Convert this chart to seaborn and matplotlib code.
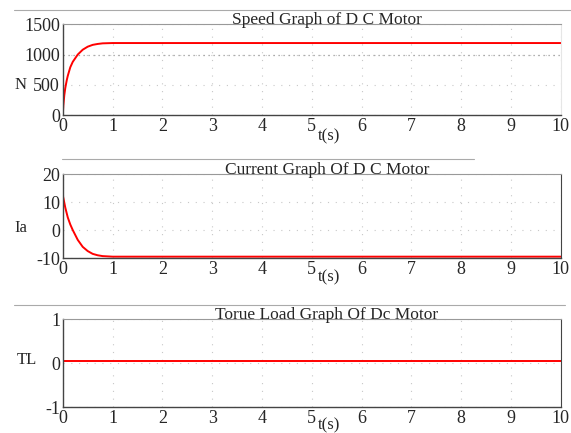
import numpy as np
import pandas as pd
import matplotlib
matplotlib.use("Agg")
import matplotlib.pyplot as plt
from matplotlib.lines import Line2D
import seaborn as sns

# values
t_speed = [0, 0.01, 0.03, 0.05, 0.08, 0.1, 0.15, 0.2, 0.3, 0.4, 0.5, 0.6, 0.7, 0.8, 1.0, 10]
speed = [0, 150, 330, 450, 580, 650, 790, 880, 1000, 1080, 1130, 1160, 1175, 1185, 1190, 1190]

t_current = [0, 0.0, 0.005, 0.05, 0.1, 0.15, 0.2, 0.3, 0.4, 0.5, 0.6, 0.7, 0.8, 1.0, 10]
current = [-10, 12, 12, 8, 4.5, 2, 0, -3.5, -6, -7.5, -8.5, -9.0, -9.3, -9.5, -9.5]

t_torque = [0, 10]
torque = [0.05, 0.05]

titles = ["Speed Graph of D C Motor", "Current Graph Of D C Motor", "Torue Load Graph Of Dc Motor"]
ylabels = ["N", "Ia", "TL"]
xticks = list(range(0, 11))
yticks = [[0, 500, 1000, 1500], [-10, 0, 10, 20], [-1, 0, 1]]
ylims = [(0, 1500), (-10, 20), (-1, 1)]
label_pos = [(-0.085, 0.33), (-0.085, 0.36), (-0.072, 0.53)]
xlabel_y = [-0.14, -0.14, -0.12]

sns.set_style("white")
plt.rcParams["font.family"] = ["Liberation Serif", "DejaVu Serif"]
plt.rcParams["axes.unicode_minus"] = False

fig = plt.figure(figsize=(5.71, 4.33), dpi=100)
boxes = [[0.110, 0.734, 0.872, 0.210],
         [0.110, 0.404, 0.872, 0.194],
         [0.110, 0.060, 0.872, 0.203]]
data = [(t_speed, speed), (t_current, current), (t_torque, torque)]

for i, box in enumerate(boxes):
    ax = fig.add_axes(box)
    x, y = data[i]
    df = pd.DataFrame({"t": x, "v": y})
    sns.lineplot(data=df, x="t", y="v", ax=ax, color="red", linewidth=1.4, sort=False, estimator=None)
    ax.set_xlim(0, 10)
    ax.set_ylim(*ylims[i])
    ax.set_xticks(xticks)
    ax.set_yticks(yticks[i])
    ax.tick_params(direction="in", length=3, labelsize=13, pad=2, color="#555555")
    ax.grid(True, linestyle=(0, (1, 6)), color="#c8c8c8", linewidth=0.8)
    for side in ["left", "bottom"]:
        ax.spines[side].set_color("#444444")
        ax.spines[side].set_linewidth(1.0)
    ax.spines["top"].set_color("#999999")
    ax.spines["right"].set_color("#444444" if i > 0 else "#e6e6e6")
    ax.set_title(titles[i], fontsize=12.5, pad=0, x=0.53)
    ax.set_xlabel("t(s)", fontsize=12)
    ax.xaxis.set_label_coords(0.535, xlabel_y[i])
    ax.set_ylabel(ylabels[i], rotation=0, fontsize=12, va="center", ha="center")
    ax.yaxis.set_label_coords(*label_pos[i])
    if i == 0:
        ax.axhline(1000, color="#999999", linestyle=(0, (1, 3)), linewidth=0.9)

# decorative grey rules behind titles
for yy, x0, x1 in [(0.977, 0.025, 1.0), (0.633, 0.108, 0.83), (0.296, 0.025, 0.99)]:
    fig.add_artist(Line2D([x0, x1], [yy, yy], transform=fig.transFigure, color="#aaaaaa", linewidth=0.8))

fig.savefig("out.png", dpi=100)
